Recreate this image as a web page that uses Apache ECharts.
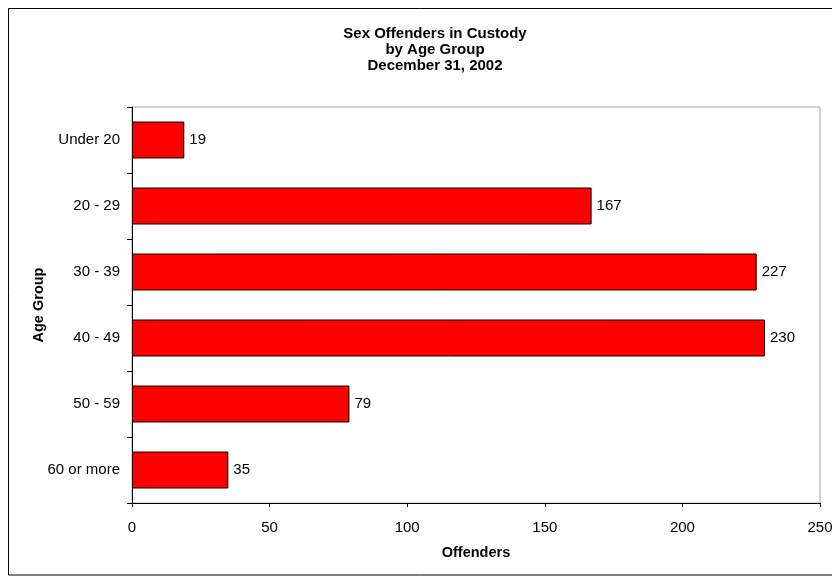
<!DOCTYPE html>
<html><head><meta charset="utf-8">
<script src="https://cdn.jsdelivr.net/npm/echarts@6/dist/echarts.min.js"></script>
<style>html,body{margin:0;padding:0;background:#fff}#c{width:832px;height:576px}</style>
</head><body><div id="c"></div>
<script>
const categories = ["Under 20", "20 - 29", "30 - 39", "40 - 49", "50 - 59", "60 or more"];
const offenders = [19, 167, 227, 230, 79, 35];
const xTicks = [0, 50, 100, 150, 200, 250];
const titleLines = ["Sex Offenders in Custody", "by Age Group", "December 31, 2002"];

const chart = echarts.init(document.getElementById('c'), null, {renderer: 'canvas'});
const F = '"Liberation Sans", Arial, sans-serif';
chart.setOption({
  animation: false,
  backgroundColor: '#fff',
  textStyle: {fontFamily: F},
  title: {
    text: titleLines.join('\n'),
    left: 430, top: 21, textAlign: 'center',
    textStyle: {fontFamily: F, fontSize: 15, fontWeight: 'bold', color: '#000', lineHeight: 16}
  },
  graphic: [{
    type: 'rect', shape: {x: 8.5, y: 8.5, width: 830, height: 566.5},
    style: {fill: 'none', stroke: '#000', lineWidth: 1}, silent: true, z: -1
  }],
  grid: {left: 132, right: 12, top: 107, bottom: 73, outerBoundsMode: 'none', containLabel: false,
         show: true, borderColor: '#a6a6a6', borderWidth: 1, backgroundColor: 'transparent'},
  xAxis: {
    type: 'value', min: xTicks[0], max: xTicks[xTicks.length - 1], interval: 50,
    name: 'Offenders', nameLocation: 'middle', nameGap: 42, nameMoveOverlap: false,
    nameTextStyle: {fontFamily: F, fontSize: 14.5, fontWeight: 'bold', color: '#000'},
    axisLine: {show: true, lineStyle: {color: '#000', width: 1}},
    axisTick: {show: true, length: 4, lineStyle: {color: '#000'}},
    axisLabel: {fontFamily: F, fontSize: 15, color: '#000', margin: 17},
    splitLine: {show: false}
  },
  yAxis: {
    type: 'category', data: categories, inverse: true,
    name: 'Age Group', nameLocation: 'middle', nameGap: 86, nameRotate: 90, nameMoveOverlap: false,
    nameTextStyle: {fontFamily: F, fontSize: 14.5, fontWeight: 'bold', color: '#000'},
    axisLine: {show: true, lineStyle: {color: '#000', width: 1}},
    axisTick: {show: true, length: 5, lineStyle: {color: '#000'}},
    axisLabel: {fontFamily: F, fontSize: 15, color: '#000', margin: 12}
  },
  series: [{
    type: 'bar', data: offenders, barCategoryGap: '44%',
    itemStyle: {color: '#ff0000', borderColor: '#000', borderWidth: 1},
    label: {show: true, position: 'right', distance: 5, fontFamily: F, fontSize: 15, color: '#000'}
  }]
});
</script></body></html>
